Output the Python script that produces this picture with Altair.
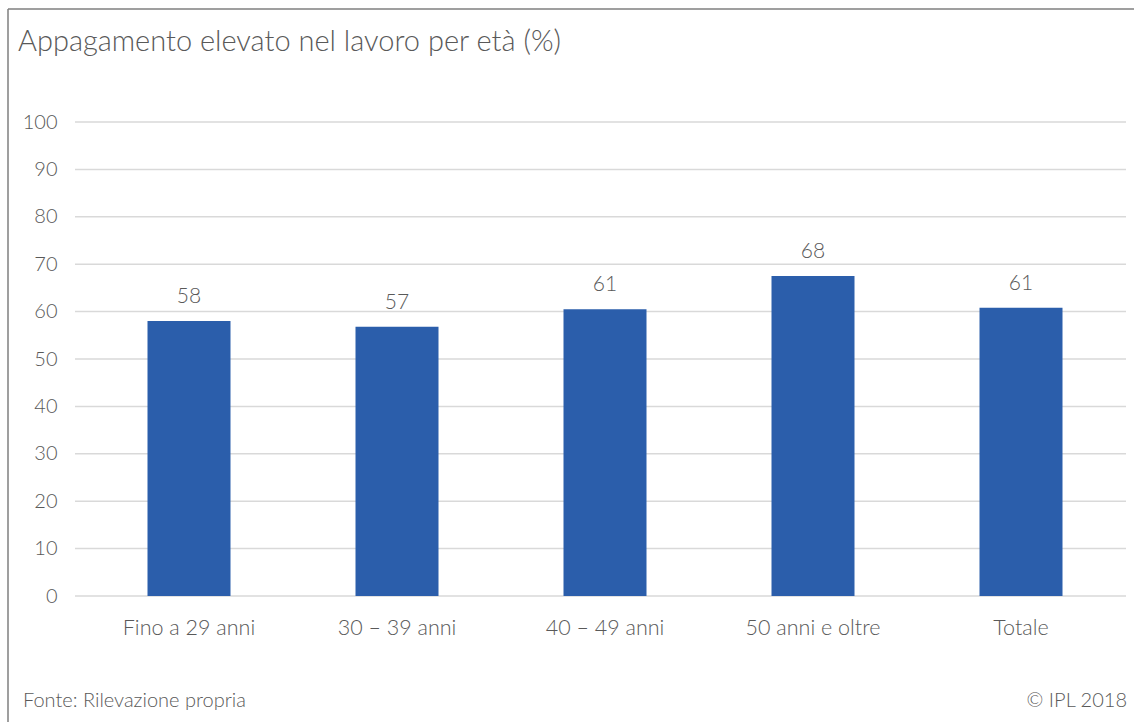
import altair as alt
import pandas as pd

# Job satisfaction by age group (%)
categories = ["Fino a 29 anni", "30 – 39 anni", "40 – 49 anni", "50 anni e oltre", "Totale"]
values = [58.0, 56.8, 60.5, 67.5, 60.8]
y_ticks = [0, 10, 20, 30, 40, 50, 60, 70, 80, 90, 100]

title_text = "Appagamento elevato nel lavoro per età (%)"
source_text = "Fonte: Rilevazione propria"
credit_text = "© IPL 2018"

FONT = "Lato"
TEXT_COLOR = "#595959"
BAR_COLOR = "#2B5EAB"
GRID_COLOR = "#D9D9D9"
FRAME_COLOR = "#7F7F7F"

W, H = 1040, 474
PAD_L, PAD_T = 85, 122

bars_df = pd.DataFrame({"cat": categories, "val": values})
grid_df = pd.DataFrame({"tick": y_ticks})

x_enc = alt.X(
    "cat:N",
    sort=categories,
    scale=alt.Scale(paddingInner=0.6, paddingOuter=0.3),
    axis=alt.Axis(
        title=None, labelAngle=0, ticks=False, domain=False,
        labelFont=FONT, labelFontSize=21.5, labelFontWeight=300,
        labelColor=TEXT_COLOR, labelPadding=21,
    ),
)
y_scale = alt.Scale(domain=[0, 100], nice=False)

grid = alt.Chart(grid_df).mark_rule(color=GRID_COLOR, strokeWidth=1.5).encode(
    y=alt.Y("tick:Q", scale=y_scale, axis=alt.Axis(
        title=None, values=y_ticks, grid=False, ticks=False, domain=False,
        labelFont=FONT, labelFontSize=20, labelFontWeight=300,
        labelColor=TEXT_COLOR, labelPadding=28,
    )),
    x=alt.value(-10),
    x2=alt.value(W + 1),
)

bars = alt.Chart(bars_df).mark_bar(color=BAR_COLOR, size=83).encode(
    x=x_enc,
    y=alt.Y("val:Q", scale=y_scale),
)

labels = alt.Chart(bars_df).mark_text(
    font=FONT, fontSize=21, fontWeight=300, color=TEXT_COLOR,
    baseline="alphabetic", dy=-18,
).encode(
    x=x_enc,
    y=alt.Y("val:Q", scale=y_scale),
    text=alt.Text("val:Q", format=".0f"),
)

def annotation(text, x, y, size, align="left"):
    return alt.Chart(pd.DataFrame({"t": [text]})).mark_text(
        font=FONT, fontSize=size, fontWeight=300, color=TEXT_COLOR,
        align=align, baseline="alphabetic",
    ).encode(x=alt.value(x), y=alt.value(y), text="t:N")

title = annotation(title_text, 18 - PAD_L, 51 - PAD_T, 29)
source = annotation(source_text, 23 - PAD_L, 707 - PAD_T, 20)
credit = annotation(credit_text, 1127 - PAD_L, 707 - PAD_T, 20, align="right")

frame_top = alt.Chart(pd.DataFrame({"k": [0]})).mark_rule(
    color=FRAME_COLOR, strokeWidth=1.5
).encode(x=alt.value(8 - PAD_L), x2=alt.value(1134 - PAD_L), y=alt.value(9 - PAD_T))
frame_left = alt.Chart(pd.DataFrame({"k": [0]})).mark_rule(
    color=FRAME_COLOR, strokeWidth=1.5
).encode(x=alt.value(8 - PAD_L), y=alt.value(9 - PAD_T), y2=alt.value(722 - PAD_T))

chart = alt.layer(
    grid, bars, labels, title, source, credit, frame_top, frame_left
).properties(
    width=W,
    height=H,
    autosize=alt.AutoSizeParams(type="none"),
    padding={"left": PAD_L, "top": PAD_T, "right": 1134 - PAD_L - W, "bottom": 722 - PAD_T - H},
    background="white",
).configure_view(stroke=None)

chart.save("out.html", embed_options={"renderer": "svg", "actions": False})
